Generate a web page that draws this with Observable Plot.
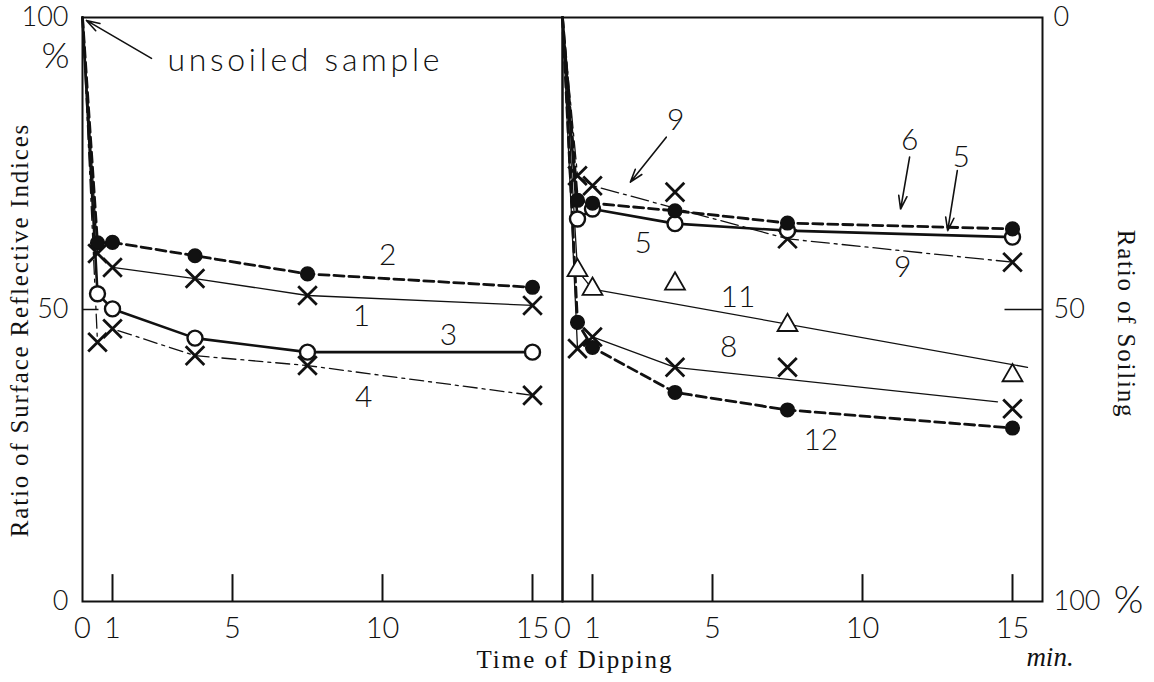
<!DOCTYPE html>
<html>
<head>
<meta charset="utf-8">
<script src="https://cdn.jsdelivr.net/npm/d3@7"></script>
<script src="https://cdn.jsdelivr.net/npm/@observablehq/plot@0.6"></script>
<style>
  html, body { margin: 0; padding: 0; background: #fff; }
  #chart { width: 1154px; height: 682px; }
</style>
</head>
<body>
<div id="chart"></div>
<script>
// ---- data ----
const panels = ["L", "R"];                 // left and right panel
const times = [0.5, 1, 3.75, 7.5, 15];     // time of dipping, min
const xTicks = [0, 1, 5, 10, 15];
const xTickMarks = [1, 5, 10, 15];
const yTicks = [0, 50, 100];

// left panel series (ratio of surface reflective indices, %)
const s1 = [59.6, 57.2, 55.3, 52.4, 50.7];
const s2 = [61.4, 61.5, 59.2, 56.1, 53.8];
const s3 = [52.7, 50.1, 45.1, 42.7, 42.7];
const s4 = [44.4, 46.7, 42.1, 40.4, 35.3];
// right panel series
const s5 = [65.5, 67.2, 64.7, 63.5, 62.4];
const s6 = [68.7, 68.2, 66.9, 64.8, 63.8];
const s9 = [72.9, 71.2, 70.1, 62.1, 58.1];
const s11 = [56.7, 53.5, 54.4, 47.3, 38.7];
const s8 = [43.3, 45.3, 40.1, 40.1, 33.0];
const s12 = [47.8, 43.5, 35.8, 32.8, 29.7];
// drawn curves that do not pass through every marker
const line9T = [0, 0.5, 1, 7.5, 15],  line9V = [100, 72.9, 71.2, 62.1, 58.1];
const line11T = [0, 0.5, 1, 15.5],    line11V = [100, 56.7, 53.5, 40.1];
const line8T = [0, 0.5, 1, 3.75, 14.5], line8V = [100, 43.3, 45.3, 40.1, 34.2];

// curve labels
const labelText  = ["2", "1", "3", "4", "9", "6", "5", "5", "9", "11", "8", "12"];
const labelPanel = ["L", "L", "L", "L", "R", "R", "R", "R", "R", "R", "R", "R"];
const labelT     = [10.17, 9.3, 12.2, 9.37, 3.77, 11.57, 13.29, 2.69, 11.34, 5.85, 5.54, 8.61];
const labelV     = [59.2, 48.8, 45.5, 35.0, 82.4, 79.0, 76.1, 61.3, 57.2, 52.1, 43.5, 27.6];

// arrows
const arrowPanel = ["L", "R", "R", "R"];
const arrowT1 = [2.3, 3.46, 11.57, 13.16];
const arrowV1 = [93.0, 79.5, 76.1, 73.8];
const arrowT2 = [0.13, 2.26, 11.27, 12.84];
const arrowV2 = [99.5, 71.8, 67.2, 63.5];

// ---- build tables ----
const lineRows = (fx, T, V) => T.map((t, i) => ({fx, t, v: V[i]}));
const ptRows = (fx, V) => times.map((t, i) => ({fx, t, v: V[i]}));
const withStart = V => [100, ...V];
const startT = [0, ...times];

const thickDash = {strokeWidth: 2.8, strokeDasharray: "10,5"};
const thickSolid = {strokeWidth: 2.6};
const thinSolid = {strokeWidth: 1.3};
const thinDashDot = {strokeWidth: 1.3, strokeDasharray: "14,5,3,5"};

const curves = [
  {fx: "L", T: startT, V: withStart(s2), st: thickDash},
  {fx: "L", T: startT, V: withStart(s1), st: thinSolid},
  {fx: "L", T: startT, V: withStart(s3), st: thickSolid},
  {fx: "L", T: startT, V: withStart(s4), st: thinDashDot},
  {fx: "R", T: startT, V: withStart(s6), st: thickDash},
  {fx: "R", T: startT, V: withStart(s5), st: thickSolid},
  {fx: "R", T: line9T, V: line9V, st: {strokeWidth: 1.3, strokeDasharray: "18,5,3,5"}},
  {fx: "R", T: line11T, V: line11V, st: thinSolid},
  {fx: "R", T: line8T, V: line8V, st: thinSolid},
  {fx: "R", T: startT, V: withStart(s12), st: thickDash}
];

const filled = [...ptRows("L", s2), ...ptRows("R", s6), ...ptRows("R", s12)];
const open = [...ptRows("L", s3), ...ptRows("R", s5)];
const crosses = [...ptRows("L", s1), ...ptRows("L", s4), ...ptRows("R", s9), ...ptRows("R", s8)];
const triangles = ptRows("R", s11);

const tickRows = panels.flatMap(fx => xTickMarks.map(t => ({fx, t})));
const labels = labelText.map((s, i) => ({fx: labelPanel[i], t: labelT[i], v: labelV[i], s}));
const arrows = arrowPanel.map((fx, i) => ({fx, t1: arrowT1[i], v1: arrowV1[i], t2: arrowT2[i], v2: arrowV2[i]}));

const sans = "Lato, 'Liberation Sans Narrow', Roboto, sans-serif";
const serif = "'Liberation Serif', 'DejaVu Serif', serif";

const chart = Plot.plot({
  width: 1154,
  height: 682,
  marginLeft: 81,
  marginRight: 112,
  marginTop: 17,
  marginBottom: 81,
  style: {background: "#fff", fontFamily: sans, color: "#111"},
  fx: {domain: panels, padding: 0, axis: null, label: null},
  x: {domain: [0, 16], axis: null},
  y: {domain: [0, 100], axis: null},
  marks: [
    Plot.frame({stroke: "#111", strokeWidth: 2}),
    // inward ticks
    Plot.ruleX(tickRows, {fx: "fx", x: "t", y1: 0, y2: 4.6, stroke: "#111", strokeWidth: 2}),
    Plot.ruleY([{fx: "L", a: 0, b: 0.55}, {fx: "R", a: 14.75, b: 16}], {fx: "fx", y: () => 50, x1: "a", x2: "b", stroke: "#111", strokeWidth: 1.5}),
    // axes
    Plot.axisX({ticks: xTicks, tickSize: 0, tickPadding: 16, fontSize: 29, fontWeight: 300, label: null}),
    Plot.axisY({anchor: "left", ticks: yTicks, tickSize: 0, tickPadding: 14, fontSize: 27, fontWeight: 300, label: null, className: "ly"}),
    Plot.axisY({anchor: "right", ticks: yTicks, tickFormat: d => String(100 - d), tickSize: 0, tickPadding: 11, fontSize: 27, fontWeight: 300, label: null, className: "ry"}),
    Plot.text([{fx: "L"}], {fx: "fx", x: () => 0, y: () => 100, text: () => "%", dx: -27, dy: 39, fontSize: 36, fontWeight: 300}),
    Plot.text([{fx: "R"}], {fx: "fx", x: () => 16, y: () => 0, text: () => "%", dx: 86, dy: -1, fontSize: 38, fontWeight: 300}),
    // curves
    ...curves.map(c => Plot.line(lineRows(c.fx, c.T, c.V), {fx: "fx", x: "t", y: "v", stroke: "#111", ...c.st})),
    Plot.dot(crosses, {fx: "fx", x: "t", y: "v", symbol: "times", r: 8.5, stroke: "#111", strokeWidth: 2.8}),
    Plot.dot(triangles, {fx: "fx", x: "t", y: "v", symbol: "triangle2", r: 9.5, stroke: "#111", strokeWidth: 1.8, fill: "#fff"}),
    Plot.dot(open, {fx: "fx", x: "t", y: "v", r: 7.5, stroke: "#111", strokeWidth: 2.4, fill: "#fff"}),
    Plot.dot(filled, {fx: "fx", x: "t", y: "v", r: 6.8, fill: "#111", stroke: "#111"}),
    // curve labels
    Plot.text(labels, {fx: "fx", x: "t", y: "v", text: "s", fontSize: 30, fontWeight: 300}),
    // arrows
    Plot.arrow(arrows, {fx: "fx", x1: "t1", y1: "v1", x2: "t2", y2: "v2", stroke: "#111", strokeWidth: 1.6, headLength: 13, headAngle: 35}),
    Plot.text([{fx: "L"}], {fx: "fx", x: () => 2.83, y: () => 92.6, text: () => "unsoiled sample", textAnchor: "start", fontSize: 32, fontWeight: 300, className: "unsoiled"})
  ]
});

const svg = d3.select(chart);
// stretch the annotation to the reference's width
svg.selectAll(".unsoiled text").attr("textLength", 272).attr("lengthAdjust", "spacing");
// nudge the top tick labels ("100" and "0") slightly down, as in the reference
svg.selectAll(".ly text, .ry text").filter(d => d === 100).attr("dy", "0.55em");

// titles placed around the plot (serif, as in the reference)
svg.append("text")
  .attr("transform", "translate(22,330) rotate(-90)")
  .attr("text-anchor", "middle").attr("dominant-baseline", "middle")
  .attr("font-family", serif).attr("font-size", 25).attr("letter-spacing", 1.8)
  .attr("fill", "#111").text("Ratio of Surface Reflective Indices");
svg.append("text")
  .attr("transform", "translate(1124,324) rotate(90)")
  .attr("text-anchor", "middle").attr("dominant-baseline", "middle")
  .attr("font-family", serif).attr("font-size", 25).attr("letter-spacing", 1.8)
  .attr("fill", "#111").text("Ratio of Soiling");
svg.append("text")
  .attr("x", 575).attr("y", 662)
  .attr("text-anchor", "middle").attr("dominant-baseline", "middle")
  .attr("font-family", serif).attr("font-size", 25).attr("letter-spacing", 2)
  .attr("fill", "#111").text("Time of Dipping");
svg.append("text")
  .attr("x", 1050).attr("y", 660)
  .attr("text-anchor", "middle").attr("dominant-baseline", "middle")
  .attr("font-family", serif).attr("font-style", "italic").attr("font-size", 27)
  .attr("fill", "#111").text("min.");

document.getElementById("chart").append(chart);
</script>
</body>
</html>
